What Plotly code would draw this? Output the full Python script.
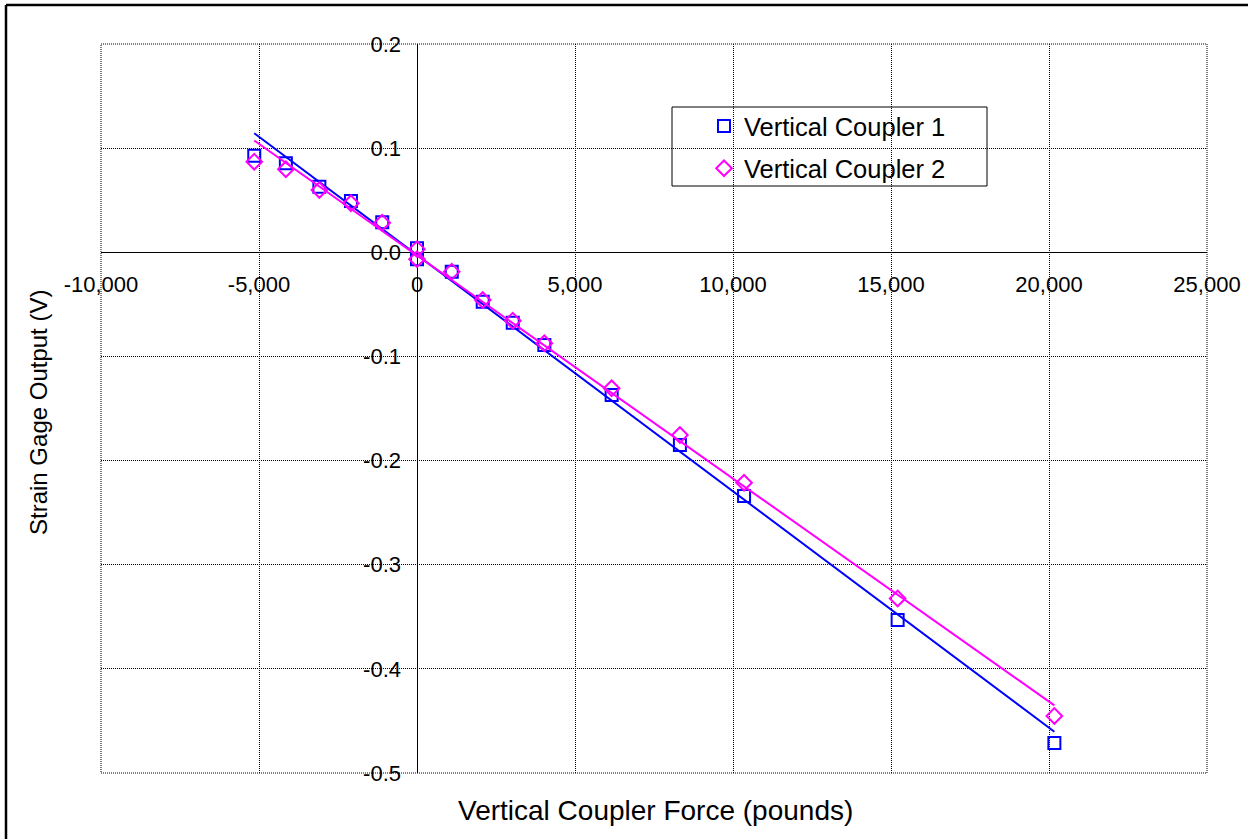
import numpy as np
import plotly.graph_objects as go

# Vertical coupler calibration: applied force (lb) vs strain gage output (V)
force_lb = [-5150, -4150, -3090, -2090, -1100, 0, 0, 1100, 2080, 3030, 4030,
            6160, 8320, 10350, 15210, 20170]
coupler1_v = [0.0928, 0.0855, 0.0630, 0.0493, 0.0288, 0.0038, -0.0067, -0.0186,
              -0.0475, -0.0676, -0.0890, -0.1371, -0.1851, -0.2341, -0.3532, -0.4711]
coupler2_v = [0.0870, 0.0797, 0.0598, 0.0471, 0.0284, 0.0030, -0.0066, -0.0186,
              -0.0458, -0.0657, -0.0874, -0.1306, -0.1755, -0.2213, -0.3324, -0.4452]

x_tick_vals = [-10000, -5000, 0, 5000, 10000, 15000, 20000, 25000]
x_tick_text = ["-10,000", "-5,000", "0", "5,000", "10,000", "15,000", "20,000", "25,000"]
y_tick_vals = [0.2, 0.1, 0.0, -0.1, -0.2, -0.3, -0.4, -0.5]
y_tick_text = ["0.2", "0.1", "0.0", "-0.1", "-0.2", "-0.3", "-0.4", "-0.5"]

X_RANGE = [-10000, 25000]
Y_RANGE = [-0.5, 0.2]

BLUE = "#0000FF"
MAGENTA = "#FF00FF"
FONT = "Liberation Sans, Arial, sans-serif"
DOTS = "1px,1px"

fig = go.Figure()


def add_series(x, y, name, color, symbol):
    xs = np.array(x, dtype=float)
    ys = np.array(y, dtype=float)
    slope, intercept = np.polyfit(xs, ys, 1)
    xl = np.array([xs.min(), xs.max()])
    fig.add_trace(go.Scatter(x=xl, y=slope * xl + intercept, mode="lines",
                             line=dict(color=color, width=2), showlegend=False,
                             hoverinfo="skip"))
    fig.add_trace(go.Scatter(x=xs, y=ys, mode="markers", name=name,
                             legendgroup=name,
                             marker=dict(symbol=symbol, size=12, color=color,
                                         line=dict(color=color, width=2))))


add_series(force_lb, coupler1_v, "Vertical Coupler 1", BLUE, "square-open")
add_series(force_lb, coupler2_v, "Vertical Coupler 2", MAGENTA, "diamond-open")

# plot-area pixel geometry
L, R, T, B = 101, 1207, 44, 773
W, H = 1253, 839


def px(xp):
    return (xp - L) / (R - L)


def py(yp):
    return (B - yp) / (B - T)


x_zero = (0 - X_RANGE[0]) / (X_RANGE[1] - X_RANGE[0])
y_zero = (0 - Y_RANGE[0]) / (Y_RANGE[1] - Y_RANGE[0])

grid = dict(showgrid=True, gridcolor="#000000", gridwidth=1, griddash=DOTS,
            zeroline=True, zerolinecolor="#000000", zerolinewidth=1,
            showline=False, ticks="", anchor="free",
            tickfont=dict(family=FONT, size=22, color="#000000"))

fig.update_layout(
    width=W, height=H,
    margin=dict(l=L, r=W - R, t=T, b=H - B),
    paper_bgcolor="white", plot_bgcolor="white",
    font=dict(family=FONT, color="#000000"),
    xaxis=dict(range=X_RANGE, tickvals=x_tick_vals, ticktext=x_tick_text,
               position=y_zero, ticklabelstandoff=17, **grid),
    yaxis=dict(range=Y_RANGE, tickvals=y_tick_vals, ticktext=y_tick_text,
               position=x_zero, ticklabelstandoff=16, **grid),
    legend=dict(x=px(704), y=py(103), xanchor="left", yanchor="top",
                bgcolor="rgba(0,0,0,0)", borderwidth=0,
                font=dict(family=FONT, size=25.5, color="#000000"),
                traceorder="grouped", tracegroupgap=6),
    showlegend=True,
)

# dotted frame around the plot area (outermost grid lines)
fig.add_shape(type="rect", xref="paper", yref="paper", x0=0, x1=1, y0=0, y1=1,
              line=dict(color="#000000", width=1, dash=DOTS), layer="below")

# legend frame
fig.add_shape(type="rect", xref="paper", yref="paper",
              x0=px(672), x1=px(987), y0=py(186), y1=py(107),
              line=dict(color="#000000", width=1), fillcolor="white", layer="below")

# outer chart frame
fig.add_shape(type="line", xref="paper", yref="paper",
              x0=px(6), x1=px(1248), y0=py(5), y1=py(5),
              line=dict(color="#000000", width=2.5))
fig.add_shape(type="line", xref="paper", yref="paper",
              x0=px(6), x1=px(6), y0=py(5), y1=py(860),
              line=dict(color="#000000", width=2.5))

fig.add_annotation(text="Vertical Coupler Force (pounds)", xref="paper", yref="paper",
                   x=px(655), y=py(810), xanchor="center", yanchor="middle",
                   showarrow=False, font=dict(family=FONT, size=28, color="#000000"))
fig.add_annotation(text="Strain Gage Output (V)", xref="paper", yref="paper",
                   x=px(38), y=py(413), xanchor="center", yanchor="middle",
                   showarrow=False, textangle=-90,
                   font=dict(family=FONT, size=24, color="#000000"))

fig.write_html("out.html")
